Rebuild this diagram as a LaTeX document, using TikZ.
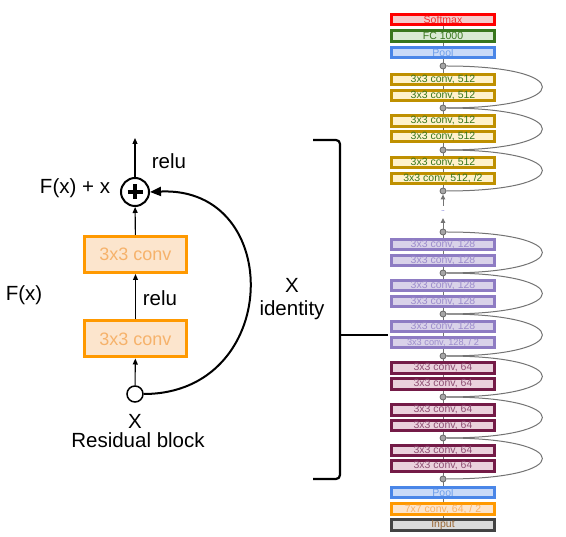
\documentclass[tikz,border=0pt]{standalone}
\usepackage{fontspec}
\setmainfont{Liberation Sans}
\usetikzlibrary{arrows.meta}
\definecolor{smB}{HTML}{FF0000}\definecolor{smF}{HTML}{F4CCCC}\definecolor{smT}{HTML}{F03030}
\definecolor{fcB}{HTML}{38761D}\definecolor{fcF}{HTML}{D9EAD3}\definecolor{fcT}{HTML}{38761D}
\definecolor{plB}{HTML}{4A86E8}\definecolor{plF}{HTML}{C9DAF8}\definecolor{plT}{HTML}{6D9EEB}
\definecolor{gdB}{HTML}{BF9000}\definecolor{gdF}{HTML}{FFF2CC}\definecolor{gdT}{HTML}{38761D}
\definecolor{puB}{HTML}{8E7CC3}\definecolor{puF}{HTML}{D9D2E9}\definecolor{puT}{HTML}{9C8CCC}
\definecolor{mrB}{HTML}{741B47}\definecolor{mrF}{HTML}{EAD1DC}\definecolor{mrT}{HTML}{8E4F73}
\definecolor{orB}{HTML}{FF9900}\definecolor{orF}{HTML}{FCE5CD}\definecolor{orT}{HTML}{F6B26B}
\definecolor{inB}{HTML}{434343}\definecolor{inF}{HTML}{D9D9D9}\definecolor{inT}{HTML}{996633}
\begin{document}
\begin{tikzpicture}[x=1pt,y=-1pt,
  blk/.style={draw, line width=3pt, minimum width=103.5pt, minimum height=10.5pt, inner sep=0pt, font=\fontsize{10.5}{11}\selectfont},
  bsm/.style={blk, draw=smB, fill=smF, text=smT},
  bfc/.style={blk, draw=fcB, fill=fcF, text=fcT},
  bpl/.style={blk, draw=plB, fill=plF, text=plT},
  bgd/.style={blk, draw=gdB, fill=gdF, text=gdT},
  bpu/.style={blk, draw=puB, fill=puF, text=puT},
  bmr/.style={blk, draw=mrB, fill=mrF, text=mrT},
  bor/.style={blk, draw=orB, fill=orF, text=orT},
  bin/.style={blk, draw=inB, fill=inF, text=inT},
  jn/.style={circle, draw=black!60, fill=black!35, line width=0.8pt, minimum size=6pt, inner sep=0pt},
  vline/.style={draw=black!55, line width=1pt},
  skip/.style={draw=black!55, line width=1pt},
  lconv/.style={draw=orB, fill=orF, text=orT, line width=3pt, minimum width=102pt, minimum height=36pt, inner sep=0pt, font=\fontsize{18}{20}\selectfont},
  big/.style={font=\fontsize{20.5}{24}\selectfont, inner sep=0pt},
  arr/.style={line width=1.1pt, -{Triangle[length=6pt,width=5pt]}},
  idarr/.style={line width=2pt, -{Triangle[length=11pt,width=9pt]}},
  garr/.style={draw=black!55, line width=1pt, -{Triangle[length=5pt,width=4.5pt]}}
]
\useasboundingbox (0,0) rectangle (566,537);
% ---------- right column ----------
\node[bsm] (sm) at (443,19.5) {Softmax};
\node[bfc] (fc) at (443,36) {FC 1000};
\node[bpl] (pa) at (443,52.5) {Pool};
\node[jn] (j1) at (443,66) {};
\node[bgd] (g1) at (443,79.5) {3x3 conv, 512};
\node[bgd] (g2) at (443,95.5) {3x3 conv, 512};
\node[jn] (j2) at (443,108) {};
\node[bgd] (g3) at (443,121) {3x3 conv, 512};
\node[bgd] (g4) at (443,136.5) {3x3 conv, 512};
\node[jn] (j3) at (443,150) {};
\node[bgd] (g5) at (443,162.5) {3x3 conv, 512};
\node[bgd] (g6) at (443,178.5) {3x3 conv, 512, /2};
\node[jn] (j4) at (443,191) {};
\coordinate (ga) at (443,206);
\coordinate (gb) at (443,218);
\node[inner sep=0pt, text=blue!70!black, font=\fontsize{6}{6}\selectfont] (dots) at (443,211) {..};
\node[jn] (j5) at (443,232) {};
\node[bpu] (p1) at (443,244.5) {3x3 conv, 128};
\node[bpu] (p2) at (443,260.5) {3x3 conv, 128};
\node[jn] (j6) at (443,273) {};
\node[bpu] (p3) at (443,285.5) {3x3 conv, 128};
\node[bpu] (p4) at (443,301.5) {3x3 conv, 128};
\node[jn] (j7) at (443,314) {};
\node[bpu] (p5) at (443,326.5) {3x3 conv, 128};
\node[bpu, font=\fontsize{9.2}{10}\selectfont] (p6) at (443,342.5) {3x3 conv, 128, / 2};
\node[jn] (j8) at (443,356) {};
\node[bmr] (m1) at (443,368) {3x3 conv, 64};
\node[bmr] (m2) at (443,384) {3x3 conv, 64};
\node[jn] (j9) at (443,397) {};
\node[bmr] (m3) at (443,410) {3x3 conv, 64};
\node[bmr] (m4) at (443,425.5) {3x3 conv, 64};
\node[jn] (j10) at (443,438) {};
\node[bmr] (m5) at (443,450.5) {3x3 conv, 64};
\node[bmr] (m6) at (443,466) {3x3 conv, 64};
\node[jn] (j11) at (443,479) {};
\node[bpl] (pb) at (443,492.5) {Pool};
\node[bor] (c7) at (443,509) {7x7 conv, 64, / 2};
\node[bin] (inp) at (443,525) {Input};
% vertical connectors
\foreach \a/\b in {inp/c7, c7/pb, pb/j11, j11/m6, m6/m5, m5/j10, j10/m4, m4/m3, m3/j9, j9/m2, m2/m1, m1/j8,
  j8/p6, p6/p5, p5/j7, j7/p4, p4/p3, p3/j6, j6/p2, p2/p1, p1/j5,
  j4/g6, g6/g5, g5/j3, j3/g4, g4/g3, g3/j2, j2/g2, g2/g1, g1/j1, j1/pa, pa/fc, fc/sm}
  \draw[vline] (\a) -- (\b);
\draw[garr] (j5) -- (gb);
\draw[garr] (ga) -- (j4);
% skip connections
\foreach \a/\b in {j1/j2, j2/j3, j3/j4, j5/j6, j6/j7, j7/j8, j8/j9, j9/j10, j10/j11}
  \draw[skip] (\a.east) .. controls +(128,0) and +(128,0) .. (\b.east);
% ---------- bracket ----------
\coordinate (bt) at (313,140);
\coordinate (bb) at (313,479);
\coordinate (bm) at (340,335);
\coordinate (bc) at (388,335);
\draw[line width=2.2pt, rounded corners=4pt] (bt) -- (340,140) -- (340,479) -- (bb);
\draw[line width=2.2pt] (bm) -- (bc);
\node[big] (lx) at (292,285) {X};
\node[big] (lid) at (292,310) {identity};
% ---------- residual block ----------
\node[lconv] (b2) at (135.5,254.5) {3x3 conv};
\node[lconv] (b1) at (135.5,339) {3x3 conv};
\node[circle, draw, line width=2pt, minimum size=28pt, inner sep=0pt] (plus) at (135,192) {};
\draw[line width=3.4pt] (plus.center) ++(-7.5,0) -- ++(15,0);
\draw[line width=3.4pt] (plus.center) ++(0,-7.5) -- ++(0,15);
\node[circle, draw, line width=1.5pt, minimum size=16pt, inner sep=0pt, fill=white] (xin) at (135,394) {};
\coordinate (out) at (135,138);
\draw[arr] (plus) -- (out);
\draw[arr] (b2) -- (plus);
\draw[arr] (b1) -- (b2);
\draw[arr] (xin) -- (b1);
\draw[idarr] (xin.east) .. controls (282,394) and (285,186) .. (plus.east);
\node[big] (relu1) at (169,161) {relu};
\node[big] (fxx) at (75,188) {F(x) + x};
\node[big] (relu2) at (160,298) {relu};
\node[big] (fx) at (24,295) {F(x)};
\node[big] (xl) at (135,421) {X};
\node[big] (rb) at (138,440) {Residual block};
\end{tikzpicture}
\end{document}
